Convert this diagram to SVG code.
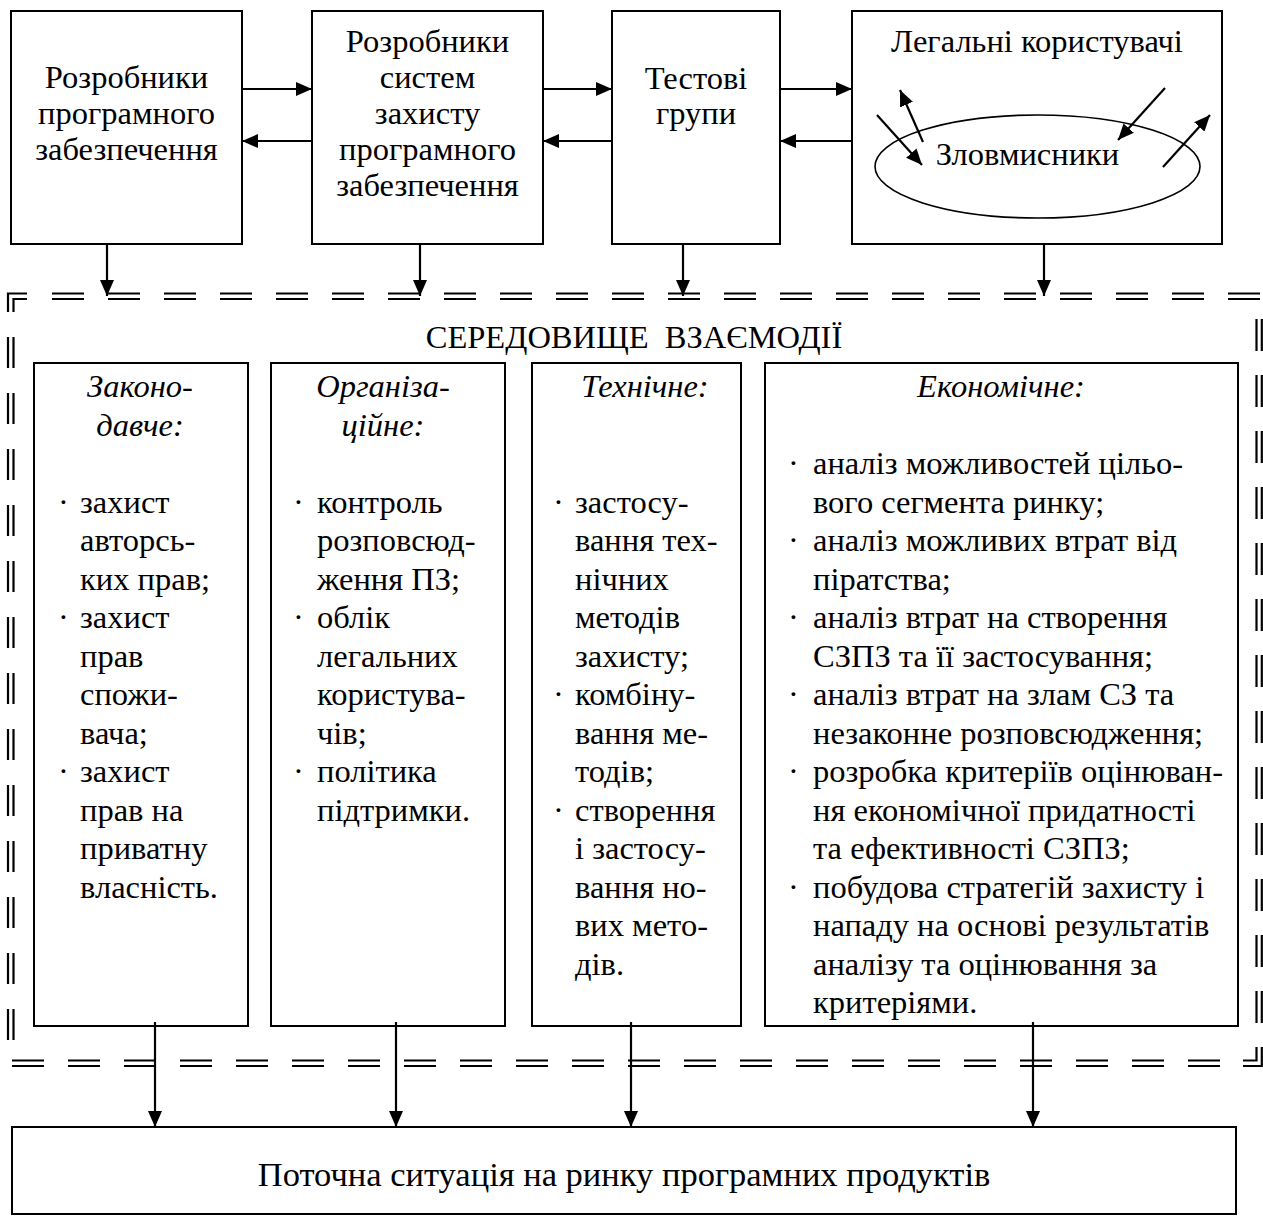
<svg xmlns="http://www.w3.org/2000/svg" width="1263" height="1226" viewBox="0 0 1263 1226">
<defs>
<style>
.box{fill:none;stroke:#000;stroke-width:2}
.ln{fill:none;stroke:#000;stroke-width:2.2}
.dl{fill:none;stroke:#000;stroke-width:2.2}
.t{font-family:"Liberation Serif","Times New Roman",serif;font-size:32.5px;fill:#000}
.i{font-style:italic}
.c{text-anchor:middle}
</style>
<marker id="ah" viewBox="0 0 16 14" refX="16" refY="7" markerWidth="16" markerHeight="14" markerUnits="userSpaceOnUse" orient="auto">
<path d="M0,0 L16,7 L0,14 z" fill="#000"/>
</marker>
</defs>
<rect width="1263" height="1226" fill="#fff"/>

<g id="env-border">
<line class="dl" x1="52" y1="293.5" x2="1263" y2="293.5" stroke-dasharray="32 24"/>
<line class="dl" x1="52" y1="299" x2="1263" y2="299" stroke-dasharray="32 24"/>
<line class="dl" x1="12" y1="1060.5" x2="1220" y2="1060.5" stroke-dasharray="32 24"/>
<line class="dl" x1="12" y1="1066" x2="1220" y2="1066" stroke-dasharray="32 24"/>
<line class="dl" x1="8" y1="337" x2="8" y2="1041" stroke-dasharray="31 25"/>
<line class="dl" x1="13.5" y1="337" x2="13.5" y2="1041" stroke-dasharray="31 25"/>
<line class="dl" x1="1256.5" y1="319" x2="1256.5" y2="1023" stroke-dasharray="32 24"/>
<line class="dl" x1="1261.8" y1="319" x2="1261.8" y2="1023" stroke-dasharray="32 24"/>
<path class="dl" d="M27,293.5 H8 V312"/>
<path class="dl" d="M27,299 H13.5 V312"/>
<path class="dl" d="M1243,1066 H1261.8 V1047"/>
<path class="dl" d="M1243,1060.5 H1256.5 V1047"/>
<text class="t c" x="634" y="348" word-spacing="8">СЕРЕДОВИЩЕ ВЗАЄМОДІЇ</text>
</g>

<g id="n-devs">
<rect class="box" x="11" y="11" width="231" height="233"/>
<text class="t c" x="126.5" y="88">Розробники</text>
<text class="t c" x="126.5" y="124">програмного</text>
<text class="t c" x="126.5" y="160">забезпечення</text>
</g>

<g id="n-protdevs">
<rect class="box" x="312" y="11" width="231" height="233"/>
<text class="t c" x="427.5" y="52">Розробники</text>
<text class="t c" x="427.5" y="88">систем</text>
<text class="t c" x="427.5" y="124">захисту</text>
<text class="t c" x="427.5" y="160">програмного</text>
<text class="t c" x="427.5" y="196">забезпечення</text>
</g>

<g id="n-test">
<rect class="box" x="612" y="11" width="168" height="233"/>
<text class="t c" x="696" y="89">Тестові</text>
<text class="t c" x="696" y="124">групи</text>
</g>

<g id="n-users">
<rect class="box" x="852" y="11" width="370" height="233"/>
<text class="t c" x="1037" y="52">Легальні користувачі</text>
<ellipse cx="1037.5" cy="166.5" rx="162.5" ry="51.5" fill="none" stroke="#000" stroke-width="1.6"/>
<text class="t c" x="1027.5" y="165">Зловмисники</text>
<line class="ln" x1="877" y1="115" x2="922" y2="165" marker-end="url(#ah)"/>
<line class="ln" x1="923" y1="142" x2="900" y2="90" marker-end="url(#ah)"/>
<line class="ln" x1="1165" y1="88" x2="1118" y2="140" marker-end="url(#ah)"/>
<line class="ln" x1="1163" y1="167" x2="1210" y2="115" marker-end="url(#ah)"/>
</g>

<g id="n-legal">
<rect class="box" x="34" y="363" width="214" height="663"/>
<text class="t i c" x="140" y="397">Законо-</text>
<text class="t i c" x="140" y="435.5">давче:</text>
<text class="t" x="58" y="512.5">·</text>
<text class="t" x="80" y="512.5">захист</text>
<text class="t" x="80" y="551">авторсь-</text>
<text class="t" x="80" y="589.5">ких прав;</text>
<text class="t" x="58" y="628">·</text>
<text class="t" x="80" y="628">захист</text>
<text class="t" x="80" y="666.5">прав</text>
<text class="t" x="80" y="705">спожи-</text>
<text class="t" x="80" y="743.5">вача;</text>
<text class="t" x="58" y="782">·</text>
<text class="t" x="80" y="782">захист</text>
<text class="t" x="80" y="820.5">прав на</text>
<text class="t" x="80" y="859">приватну</text>
<text class="t" x="80" y="897.5">власність.</text>
</g>

<g id="n-org">
<rect class="box" x="271" y="363" width="234" height="663"/>
<text class="t i c" x="383" y="397">Організа-</text>
<text class="t i c" x="383" y="435.5">ційне:</text>
<text class="t" x="293" y="512.5">·</text>
<text class="t" x="317" y="512.5">контроль</text>
<text class="t" x="317" y="551">розповсюд-</text>
<text class="t" x="317" y="589.5">ження ПЗ;</text>
<text class="t" x="293" y="628">·</text>
<text class="t" x="317" y="628">облік</text>
<text class="t" x="317" y="666.5">легальних</text>
<text class="t" x="317" y="705">користува-</text>
<text class="t" x="317" y="743.5">чів;</text>
<text class="t" x="293" y="782">·</text>
<text class="t" x="317" y="782">політика</text>
<text class="t" x="317" y="820.5">підтримки.</text>
</g>

<g id="n-tech">
<rect class="box" x="532" y="363" width="209" height="663"/>
<text class="t i c" x="645" y="397">Технічне:</text>
<text class="t" x="553" y="512.5">·</text>
<text class="t" x="575" y="512.5">застосу-</text>
<text class="t" x="575" y="551">вання тех-</text>
<text class="t" x="575" y="589.5">нічних</text>
<text class="t" x="575" y="628">методів</text>
<text class="t" x="575" y="666.5">захисту;</text>
<text class="t" x="553" y="705">·</text>
<text class="t" x="575" y="705">комбіну-</text>
<text class="t" x="575" y="743.5">вання ме-</text>
<text class="t" x="575" y="782">тодів;</text>
<text class="t" x="553" y="820.5">·</text>
<text class="t" x="575" y="820.5">створення</text>
<text class="t" x="575" y="859">і застосу-</text>
<text class="t" x="575" y="897.5">вання но-</text>
<text class="t" x="575" y="936">вих мето-</text>
<text class="t" x="575" y="974.5">дів.</text>
</g>

<g id="n-econ">
<rect class="box" x="765" y="363" width="473" height="663"/>
<text class="t i c" x="1001" y="397">Економічне:</text>
<text class="t" x="788" y="474">·</text>
<text class="t" x="813" y="474">аналіз можливостей цільо-</text>
<text class="t" x="813" y="512.5">вого сегмента ринку;</text>
<text class="t" x="788" y="551">·</text>
<text class="t" x="813" y="551">аналіз можливих втрат від</text>
<text class="t" x="813" y="589.5">піратства;</text>
<text class="t" x="788" y="628">·</text>
<text class="t" x="813" y="628">аналіз втрат на створення</text>
<text class="t" x="813" y="666.5">СЗПЗ та її застосування;</text>
<text class="t" x="788" y="705">·</text>
<text class="t" x="813" y="705">аналіз втрат на злам СЗ та</text>
<text class="t" x="813" y="743.5">незаконне розповсюдження;</text>
<text class="t" x="788" y="782">·</text>
<text class="t" x="813" y="782">розробка критеріїв оцінюван-</text>
<text class="t" x="813" y="820.5">ня економічної придатності</text>
<text class="t" x="813" y="859">та ефективності СЗПЗ;</text>
<text class="t" x="788" y="897.5">·</text>
<text class="t" x="813" y="897.5">побудова стратегій захисту і</text>
<text class="t" x="813" y="936">нападу на основі результатів</text>
<text class="t" x="813" y="974.5">аналізу та оцінювання за</text>
<text class="t" x="813" y="1013">критеріями.</text>
</g>

<g id="n-market">
<rect class="box" x="12" y="1127" width="1224" height="87"/>
<text class="t c" x="624" y="1186" style="font-size:34.5px">Поточна ситуація на ринку програмних продуктів</text>
</g>

<g id="connectors">
<line class="ln" x1="242" y1="89" x2="312" y2="89" marker-end="url(#ah)"/>
<line class="ln" x1="312" y1="141" x2="242" y2="141" marker-end="url(#ah)"/>
<line class="ln" x1="543" y1="89" x2="612" y2="89" marker-end="url(#ah)"/>
<line class="ln" x1="612" y1="141" x2="543" y2="141" marker-end="url(#ah)"/>
<line class="ln" x1="780" y1="89" x2="852" y2="89" marker-end="url(#ah)"/>
<line class="ln" x1="852" y1="141" x2="780" y2="141" marker-end="url(#ah)"/>
<line class="ln" x1="107" y1="244" x2="107" y2="296" marker-end="url(#ah)"/>
<line class="ln" x1="420" y1="244" x2="420" y2="296" marker-end="url(#ah)"/>
<line class="ln" x1="683" y1="244" x2="683" y2="296" marker-end="url(#ah)"/>
<line class="ln" x1="1044" y1="244" x2="1044" y2="296" marker-end="url(#ah)"/>
<line class="ln" x1="155" y1="1022" x2="155" y2="1127" marker-end="url(#ah)"/>
<line class="ln" x1="396" y1="1022" x2="396" y2="1127" marker-end="url(#ah)"/>
<line class="ln" x1="631" y1="1022" x2="631" y2="1127" marker-end="url(#ah)"/>
<line class="ln" x1="1033" y1="1022" x2="1033" y2="1127" marker-end="url(#ah)"/>
</g>
</svg>
